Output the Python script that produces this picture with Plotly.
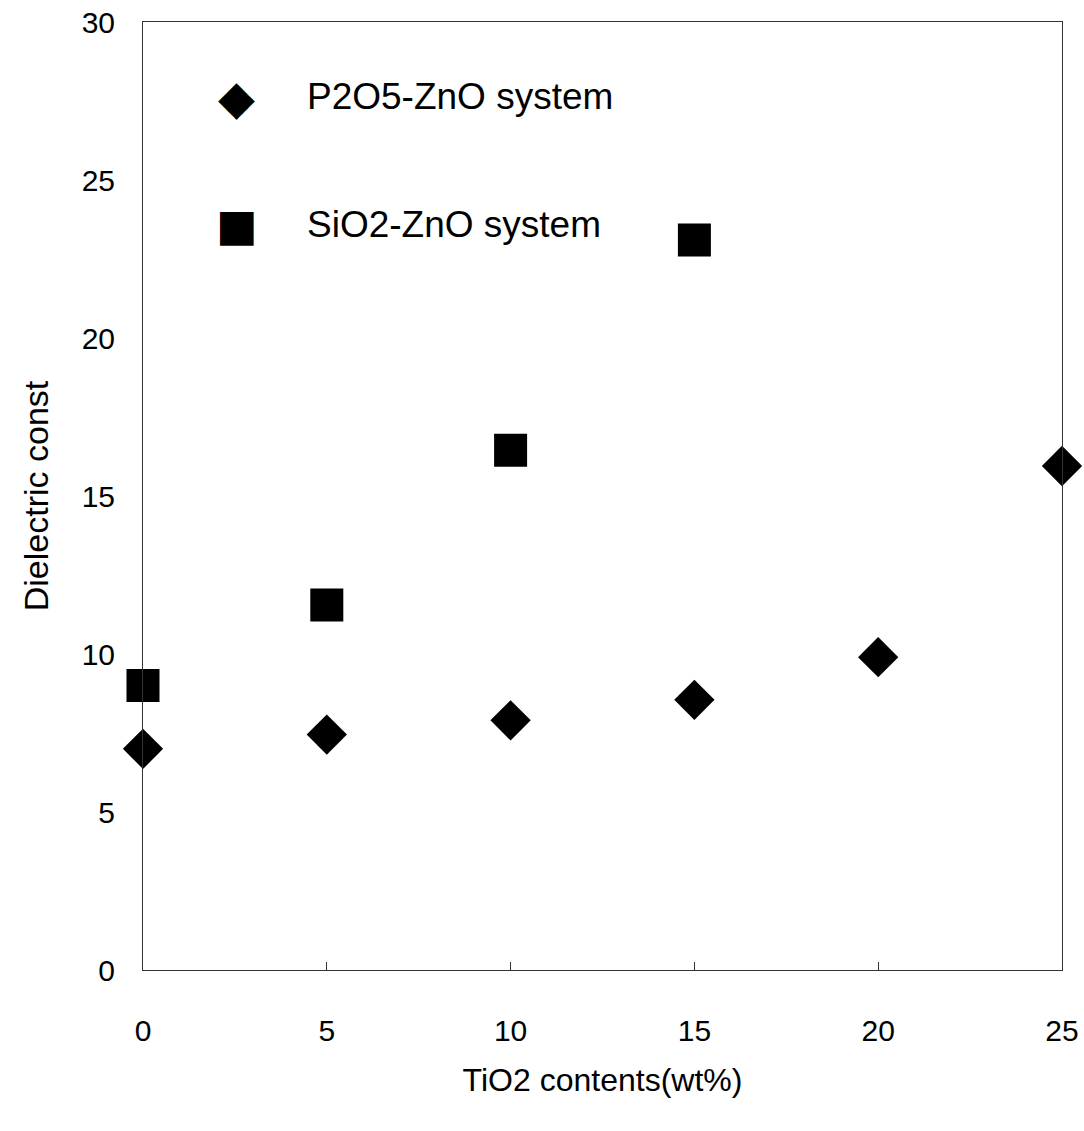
import plotly.graph_objects as go

# Data
x_p2o5 = [0, 5, 10, 15, 20, 25]
y_p2o5 = [7.0, 7.45, 7.9, 8.55, 9.9, 15.95]
x_sio2 = [0, 5, 10, 15]
y_sio2 = [9.0, 11.55, 16.45, 23.1]
series_names = ["P2O5-ZnO system", "SiO2-ZnO system"]
x_ticks = [0, 5, 10, 15, 20, 25]
y_ticks = [0, 5, 10, 15, 20, 25, 30]

FONT = "Liberation Sans, Arial, sans-serif"

fig = go.Figure()
fig.add_trace(go.Scatter(x=x_p2o5, y=y_p2o5, mode="markers", name=series_names[0],
                         marker=dict(symbol="diamond", size=31, color="black"),
                         cliponaxis=False, showlegend=False))
fig.add_trace(go.Scatter(x=x_sio2, y=y_sio2, mode="markers", name=series_names[1],
                         marker=dict(symbol="square", size=33, color="black"),
                         cliponaxis=False, showlegend=False))

# legend drawn as annotations
leg_y = [0.921, 0.786]
glyphs = ["\u25C6", "\u25A0"]
glyph_sizes = [48, 44]
for name, gy, g, gs in zip(series_names, leg_y, glyphs, glyph_sizes):
    fig.add_annotation(xref="paper", yref="paper", x=0.102, y=gy, text=g, showarrow=False,
                       xanchor="center", yanchor="middle",
                       font=dict(family="DejaVu Sans", size=gs, color="black"))
    fig.add_annotation(xref="paper", yref="paper", x=0.176, y=gy, text=name, showarrow=False,
                       xanchor="left", yanchor="middle",
                       font=dict(family=FONT, size=37, color="black"))

fig.update_xaxes(range=[0, 25], tickvals=x_ticks, ticks="inside", ticklen=8, tickcolor="#333",
                 showline=True, linecolor="#333", linewidth=1, mirror=True,
                 showgrid=False, zeroline=False, ticklabelstandoff=34, automargin=False,
                 tickfont=dict(family=FONT, size=30, color="black"),
                 title=dict(text="TiO2 contents(wt%)", standoff=22,
                            font=dict(family=FONT, size=32, color="black")))
fig.update_yaxes(range=[0, 30], tickvals=y_ticks, ticks="",
                 showline=True, linecolor="#333", linewidth=1, mirror=True,
                 showgrid=False, zeroline=False, ticklabelstandoff=21, automargin=False,
                 tickfont=dict(family=FONT, size=30, color="black"),
                 title=dict(text="Dielectric const", standoff=22,
                            font=dict(family=FONT, size=34, color="black")))

fig.update_layout(width=1084, height=1131,
                  margin=dict(l=143, r=22, t=22, b=161),
                  paper_bgcolor="white", plot_bgcolor="white",
                  showlegend=False)

fig.write_html("out.html", config={"displayModeBar": False},
               post_script="document.body.style.margin='0';")
